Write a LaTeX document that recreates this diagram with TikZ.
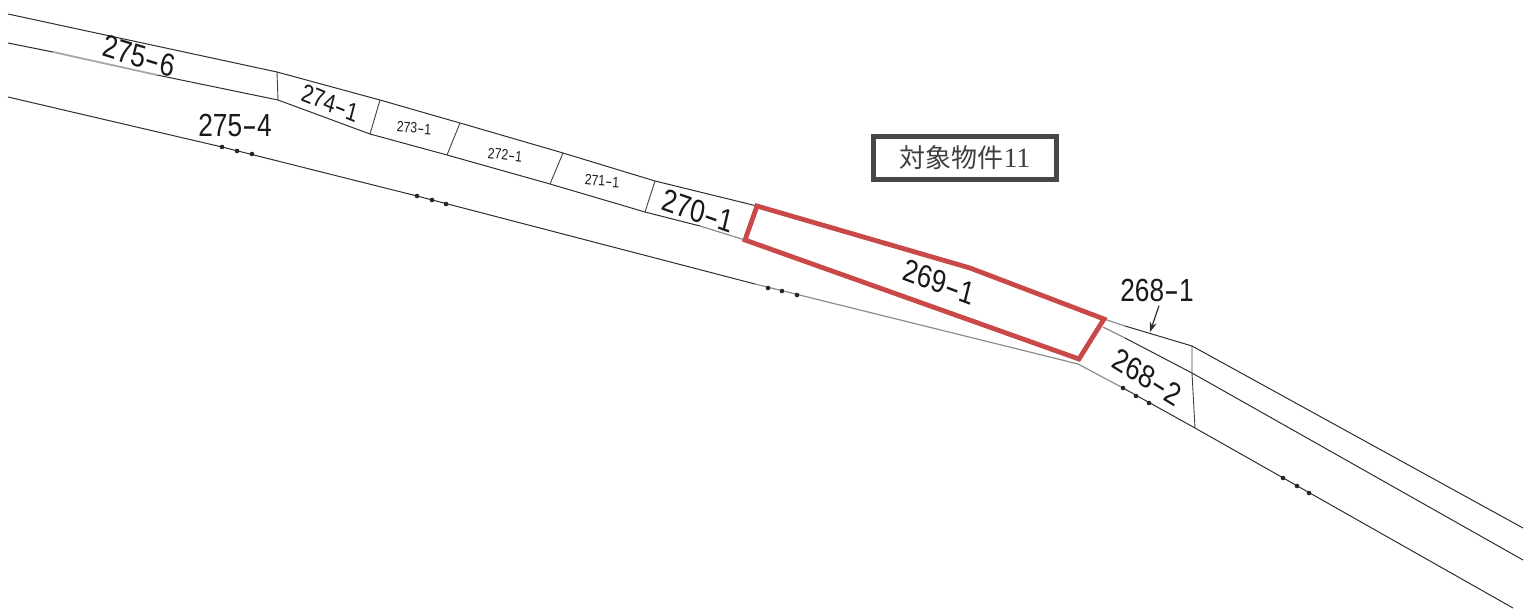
\documentclass[tikz,border=0pt]{standalone}
\usepackage{fontspec}
\usetikzlibrary{arrows.meta}
\setmainfont{Liberation Sans}
\newfontfamily\cjk{Noto Sans CJK JP}
\newfontfamily\latinserif{Liberation Serif}
\newcommand{\hy}{\scalebox{1.7}[1]{-}}
\definecolor{parcelred}{RGB}{201,72,72}
\tikzset{
  x=0.5pt,y=-0.5pt,
  plot line/.style={draw=black!82,line width=0.5pt,line join=round},
  faint line/.style={draw=black!45,line width=0.6pt,line join=round},
  divider/.style={draw=black!75,line width=0.45pt},
  target/.style={draw=parcelred,line width=2.4pt,line join=miter},
  pin dot/.style={circle,fill=black!85,inner sep=0pt,minimum size=2.3pt},
  biglabel/.style={font=\fontsize{16}{16}\selectfont,text=black!90,inner sep=0pt,xscale=.82},
  midlabel/.style={font=\fontsize{13}{13}\selectfont,text=black!90,inner sep=0pt,xscale=.80},
  tinylabel/.style={font=\fontsize{7.5}{7.5}\selectfont,text=black!90,inner sep=0pt,xscale=.82},
  titlebox/.style={draw=black!72,line width=2.1pt,fill=white,minimum width=91.5pt,minimum height=21.5pt,inner sep=0pt},
}
\begin{document}
\begin{tikzpicture}
\useasboundingbox (0,0) rectangle (1533,616);
% upper boundary points
\coordinate (t0) at (8,14);
\coordinate (t1) at (277,72);
\coordinate (t2) at (380,100);
\coordinate (t3) at (460,123);
\coordinate (t4) at (563,153);
\coordinate (t5) at (655,181);
\coordinate (r1) at (757,206);
\coordinate (r2) at (970,268);
\coordinate (r3) at (1104,319);
\coordinate (r4) at (1079,359);
\coordinate (r5) at (745,240);
\coordinate (t6) at (1192,346);
\coordinate (t7) at (1523,528);
% middle boundary points
\coordinate (m0) at (8,43);
\coordinate (m1) at (53,52);
\coordinate (m2) at (157,75);
\coordinate (m3) at (278,100);
\coordinate (m4) at (370,134);
\coordinate (m5) at (447,155);
\coordinate (m6) at (550,184);
\coordinate (m7) at (645,212);
\coordinate (m8) at (1103,327);
\coordinate (m9) at (1192,373);
\coordinate (m10) at (1523,560);
% lower boundary points
\coordinate (b0) at (8,97);
\coordinate (b1) at (222,147);
\coordinate (b2) at (417,196);
\coordinate (b3) at (755,284);
\coordinate (b4) at (1078,364);
\coordinate (b5) at (1123,388);
\coordinate (b6) at (1195,428);
\coordinate (b7) at (1513,608);
% lines
\draw[plot line] (t0) -- (t1) -- (t2) -- (t3) -- (t4) -- (t5) -- (r1);
\draw[faint line] (r3) -- (1125,326);
\draw[plot line] (1125,326) -- (t6) -- (t7);
\draw[plot line] (m0) -- (m1);
\draw[faint line,line width=.9pt,draw=black!35] (m1) -- (m2);
\draw[plot line] (m2) -- (m3) -- (m4) -- (m5) -- (m6) -- (m7) -- (700,226);
\draw[faint line] (700,226) -- (r5);
\draw[faint line] (m8) -- (1125,338);
\draw[plot line] (1125,338) -- (m9) -- (m10);
\draw[plot line] (b0) -- (b1) -- (b2) -- (b3);
\draw[faint line] (b3) -- (b4) -- (b5);
\draw[plot line] (b5) -- (b6) -- (b7);
% dividers
\draw[divider] (t1) -- (m3);
\draw[divider] (t2) -- (m4);
\draw[divider] (t3) -- (m5);
\draw[divider] (t4) -- (m6);
\draw[divider] (t5) -- (m7);
\draw[divider] (t6) -- (m9) -- (b6);
% target parcel
\draw[target] (r1) -- (r2) -- (r3) -- (r4) -- (r5) -- cycle;
% boundary marks
\foreach \n/\px/\py in {a1/222/147,a2/237/151,a3/252/154,b1/417/196,b2/432/200,b3/446/204,c1/768/288,c2/782/291,c3/797/295,d1/1123/388,d2/1136/396,d3/1149/403,e1/1283/478,e2/1297/486,e3/1309/493}
  \node[pin dot] (dot\n) at (\px,\py) {};
% labels
\node[biglabel,rotate=-14] (l2756) at (139,56) {275\hy6};
\node[biglabel] (l2754) at (235,125) {275\hy4};
\node[midlabel,rotate=-18] (l2741) at (330,103) {274\hy1};
\node[tinylabel,rotate=-4] (l2731) at (414,128) {273\hy1};
\node[tinylabel,rotate=-6] (l2721) at (505,155) {272\hy1};
\node[tinylabel,rotate=-4] (l2711) at (602,181) {271\hy1};
\node[biglabel,rotate=-16] (l2701) at (698,211) {270\hy1};
\node[biglabel,rotate=-17] (l2691) at (939,282) {269\hy1};
\node[biglabel] (l2681) at (1157,290) {268\hy1};
\node[biglabel,rotate=-27] (l2682) at (1147,377) {268\hy2};
\node[titlebox] (title) at (965,158) {{\color{black!75}\cjk\fontsize{13}{13}\selectfont 対象物件}{\color{black!75}\latinserif\fontsize{14}{14}\selectfont 11}};
% arrow
\coordinate (arrowtip) at (1150,332);
\draw[plot line,line width=.6pt,-{Stealth[length=5pt,width=3.6pt]}] (l2681.south) ++(2,4) -- (arrowtip);
\end{tikzpicture}
\end{document}
